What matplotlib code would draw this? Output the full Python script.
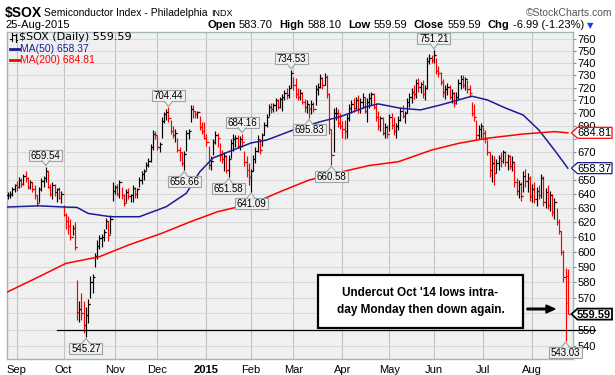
import numpy as np
import pandas as pd
import matplotlib
matplotlib.use('Agg')
import matplotlib.pyplot as plt
from matplotlib.patches import Polygon, Rectangle, FancyArrow
from matplotlib.lines import Line2D
from matplotlib.transforms import IdentityTransform
from matplotlib.ticker import NullLocator

plt.rcParams['font.family'] = ['Liberation Sans', 'DejaVu Sans']

# trading days shown (NYSE closed on these)
holidays = ['2014-09-01', '2014-11-27', '2014-12-25', '2015-01-01', '2015-01-19',
            '2015-02-16', '2015-04-03', '2015-05-25', '2015-07-03']
dates = pd.bdate_range('2014-08-26', '2015-08-25', freq='C', holidays=holidays)

# daily high / low / close (one row per month)
high = [641, 642, 645, 647,
        649, 652, 651, 654, 656, 652, 650, 648, 646, 639, 645, 651, 653, 659.54, 656, 647, 648, 647, 644, 645, 642,
        632, 626, 624, 622, 618, 620, 581, 568, 573, 568, 564, 569, 584, 585, 599, 608, 611, 612, 615, 623, 621, 625, 648,
        646, 647, 650, 645, 640, 643, 644, 640, 646, 645, 644, 652, 656, 658, 663, 666, 676, 687, 686,
        683, 678, 697, 701, 703, 704.44, 695, 690, 688, 681, 674, 670, 671, 687, 688, 706, 706, 702, 702, 698, 693, 693,
        684, 675, 667, 680, 686, 685, 677, 672, 670, 668, 668, 680, 684, 683, 683, 682, 684.16, 671, 667, 662,
        658, 668, 674, 683, 680, 685, 693, 699, 707, 708, 708, 712, 711, 713, 715, 718, 720, 722, 734.53,
        729, 728, 720, 719, 717, 711, 710, 707, 710, 709, 722, 724, 731, 729, 732, 730, 716, 688, 704, 705, 703, 700,
        694, 695, 699, 707, 710, 712, 713, 714, 712, 716, 713, 712, 716, 717, 716, 708, 702, 698, 697, 692, 691,
        699, 700, 697, 692, 698, 705, 706, 702, 712, 716, 720, 722, 727, 728, 725, 726, 722, 745, 748, 747,
        751.21, 744, 738, 733, 727, 722, 724, 722, 719, 717, 717, 727, 730, 730, 729, 726, 722, 709, 707, 695, 691, 692,
        689, 687, 679, 670, 668, 667, 665, 668, 670, 672, 671, 669, 668, 667, 663, 651, 650, 648, 656, 658, 655, 653,
        647, 648, 645, 646, 654, 653, 644, 646, 642, 640, 637, 630, 622, 614, 601, 589, 588.10]
low = [636, 637, 638, 641,
       642, 644, 645, 646, 648, 643, 643, 641, 636, 631, 634, 642, 645, 648, 644, 638, 636, 638, 634, 636, 633,
       624, 615, 612, 608, 611, 601, 556, 555, 556, 548, 545.27, 554, 570, 573, 590, 595, 602, 603, 607, 615, 607, 612, 635,
       640, 638, 637, 636, 631, 634, 636, 634, 634, 637, 637, 645, 647, 650, 657, 659, 663, 672, 680,
       672, 670, 681, 692, 695, 693, 684, 681, 678, 670, 664, 660, 656.66, 671, 680, 693, 696, 696, 696, 687, 684, 680,
       675, 658, 657, 668, 676, 674, 664, 662, 656, 655, 651.58, 666, 671, 674, 673, 672, 674, 660, 652, 646,
       641.09, 656, 662, 670, 669, 675, 683, 689, 698, 700, 701, 702, 703, 704, 702, 710, 711, 712, 720,
       718, 712, 710, 710, 707, 701, 700, 695.83, 699, 701, 706, 714, 720, 719, 722, 712, 684, 660.58, 670, 695, 689, 688,
       681, 680, 681, 694, 700, 701, 703, 700, 700, 704, 700, 693, 704, 706, 703, 694, 687, 686, 683, 681, 681,
       686, 688, 683, 681, 687, 694, 696, 692, 700, 705, 708, 711, 712, 717, 716, 712, 710, 719, 739, 740,
       740, 731, 729, 722, 713, 711, 714, 711, 708, 705, 707, 711, 719, 720, 718, 716, 713, 698, 694, 679, 680, 681,
       679, 677, 668, 652, 648, 646, 655, 657, 659, 662, 660, 657, 658, 656, 645, 639, 637, 635, 641, 645, 641, 635,
       634, 633, 631, 636, 637, 631, 630, 629, 628, 624, 622, 618, 612, 598, 580, 543.03, 559.59]
close = [639, 640, 643, 646,
         645, 650, 647, 653, 651, 645, 648, 643, 639, 633, 643, 649, 651, 656, 645, 640, 646, 641, 643, 637, 640,
         625, 621, 617, 610, 616, 603, 561, 563, 560, 553, 559, 566, 580, 583, 597, 604, 609, 610, 613, 621, 611, 622, 642,
         645, 640, 648, 639, 633, 641, 638, 639, 644, 640, 643, 650, 654, 656, 661, 664, 674, 684, 683,
         674, 676, 694, 699, 701, 696, 686, 683, 685, 672, 670, 662, 669, 685, 686, 703, 702, 699, 701, 689, 686, 681,
         678, 661, 664, 678, 683, 681, 668, 665, 667, 657, 665, 677, 680, 681, 675, 680, 678, 663, 657, 652,
         656, 665, 671, 680, 672, 683, 691, 697, 705, 703, 706, 710, 705, 711, 713, 716, 714, 720, 732,
         722, 715, 713, 716, 709, 705, 707, 703, 707, 703, 719, 721, 728, 722, 729, 715, 688, 668, 700, 700, 692, 690,
         688, 686, 696, 704, 707, 704, 710, 703, 709, 713, 702, 709, 712, 715, 705, 697, 690, 696, 685, 689, 684,
         697, 691, 686, 690, 695, 702, 698, 700, 709, 713, 717, 715, 724, 721, 723, 715, 720, 742, 744, 743,
         747, 734, 732, 725, 717, 719, 721, 713, 716, 708, 713, 724, 727, 722, 727, 719, 716, 700, 697, 683, 688, 690,
         685, 680, 670, 657, 662, 655, 662, 666, 664, 670, 663, 667, 660, 663, 648, 642, 647, 638, 653, 649, 651, 638,
         643, 636, 642, 639, 651, 634, 641, 632, 639, 627, 634, 620, 614, 600, 583, 566.58, 559.59]
last_open = 583.70
chg, chg_pct = -6.99, -1.23

# moving averages, read at points along the drawn lines (trading-day index, value)
ma50_idx = [0, 14, 25, 31, 36, 46, 59, 71, 80, 86, 92, 101, 109, 116, 128, 140, 149, 161,
            166, 176, 185, 194, 208, 215, 223, 231, 238, 245, 251]
ma50_val = [630.5, 631.3, 630.5, 630.2, 626.0, 623.7, 623.7, 630.7, 640.2, 655.6, 665.9, 671.8,
            677.1, 679.3, 687.0, 693.3, 697.2, 705.1, 707.2, 703.8, 702.5, 706.4, 713.3, 710.3,
            704.0, 698.5, 687.0, 671.8, 658.37]
ma200_idx = [0, 14, 26, 41, 54, 69, 82, 94, 110, 122, 135, 150, 162, 175, 190, 202, 215,
             231, 239, 245, 251]
ma200_val = [573.7, 583.4, 592.1, 596.5, 604.3, 612.3, 620.3, 627.2, 633.1, 641.3, 649.7, 655.8,
             660.3, 663.1, 671.8, 676.8, 680.7, 683.9, 684.9, 685.7, 684.81]

# labelled swing points (index, value, label above the bar?)
callouts = [(17, 659.54, True), (35, 545.27, False), (72, 704.44, True), (79, 656.66, False),
            (99, 651.58, False), (105, 684.16, True), (109, 641.09, False), (127, 734.53, True),
            (135, 695.83, False), (145, 660.58, False), (191, 751.21, True), (250, 543.03, False)]
support = 549.5
month_names = ['Sep', 'Oct', 'Nov', 'Dec', '2015', 'Feb', 'Mar', 'Apr', 'May', 'Jun', 'Jul', 'Aug']
hidden_ticks = [560, 660, 680]   # sit under the price tags on the right

RED = '#ff0000'
BLUE = '#1c1c96'
W, H = 615, 375

fig = plt.figure(figsize=(W / 100, H / 100), dpi=100)
L, R, T, B = 6.5, 572.5, 31.5, 359
ax = fig.add_axes([L / W, (H - B) / H, (R - L) / W, (B - T) / H])
ax.set_facecolor('#f0f0f0')
ax.set_yscale('log')
ax.set_ylim(532.3, 766.6)
ax.set_xlim(-0.6, 253.1)

yt = np.arange(540, 761, 10)
ax.set_yticks(yt)
ax.set_yticklabels(['' if v in hidden_ticks else str(v) for v in yt])
ax.yaxis.set_minor_locator(NullLocator())
ax.yaxis.tick_right()
ax.tick_params(axis='y', length=2.5, pad=1, labelsize=8, color='#888888')

x = np.arange(len(close))
month_idx = [i for i in range(1, len(dates)) if dates[i].month != dates[i - 1].month]
ax.set_xticks(month_idx)
ax.set_xticklabels(month_names)
ax.get_xticklabels()[4].set_fontweight('bold')
ax.tick_params(axis='x', length=0, pad=4, labelsize=8)
ax.grid(axis='y', color='#d8d8d8', lw=0.7)
ax.grid(axis='x', color='#c2c2c2', lw=0.8)
ax.set_axisbelow(True)
for s in ax.spines.values():
    s.set_color('#a3b5b5')
    s.set_linewidth(1)

# OHLC bars, coloured by close vs previous close
c = np.array(close, dtype=float)
prev = np.r_[c[0], c[:-1]]
opens = prev.copy()
opens[-1] = last_open
cols = np.where(c < prev, RED, 'black')
ax.vlines(x, low, high, colors=cols, lw=0.85, zorder=3)
ax.hlines(opens, x - 0.8, x, colors=cols, lw=0.85, zorder=3)
ax.hlines(c, x, x + 0.8, colors=cols, lw=0.85, zorder=3)

ax.plot(ma50_idx, ma50_val, color=BLUE, lw=1.1, zorder=4)
ax.plot(ma200_idx, ma200_val, color=RED, lw=1.1, zorder=4)

ax.plot([22, 263], [support, support], color='black', lw=0.9, clip_on=False, zorder=9)

ID = IdentityTransform()


def ptext(x, y, s, **kw):
    # text placed in pixel coords measured from the top
    return fig.text(x, H - y, s, transform=ID, **kw)


BOX_FC, BOX_EC = '#f0f0f0', '#9aa4a4'


def callout(i, v, above):
    px, py = ax.transData.transform((i, v))
    d = 1 if above else -1
    cy = py + d * 11.5
    fig.add_artist(Rectangle((px - 16.5, cy - 5.5), 33, 11, transform=ID, fc=BOX_FC,
                             ec=BOX_EC, lw=0.8, zorder=10))
    tri = [(px, py + d * 1), (px - 4, py + d * 6.6), (px + 4, py + d * 6.6)]
    fig.add_artist(Polygon(tri, closed=True, transform=ID, fc=BOX_FC, ec='none', zorder=11))
    fig.add_artist(Line2D([px - 4, px, px + 4], [py + d * 6, py + d * 1, py + d * 6],
                          transform=ID, color=BOX_EC, lw=0.8, zorder=11))
    fig.text(px, cy - 3.5, f'{v:.2f}', transform=ID, ha='center', va='baseline',
             fontsize=7, zorder=12)


for i, v, above in callouts:
    callout(i, v, above)


def price_tag(v, ec, bold=False):
    _, py = ax.transData.transform((0, v))
    tip = R - 1
    pts = [(tip, py), (tip + 6, py + 5.5), (612, py + 5.5), (612, py - 5.5), (tip + 6, py - 5.5)]
    fig.add_artist(Polygon(pts, closed=True, transform=ID, fc='white', ec=ec,
                           lw=1.3 if bold else 0.9, zorder=13))
    fig.text(594, py - 3.6, f'{v:.2f}', transform=ID, ha='center', va='baseline', fontsize=8,
             fontweight='bold' if bold else 'normal', zorder=14)


price_tag(ma200_val[-1], RED)
price_tag(ma50_val[-1], BLUE)
price_tag(close[-1], 'black', bold=True)

# annotation box and arrow
fig.add_artist(Rectangle((318, H - 328), 205, 53, transform=ID, fc='white', ec='black',
                         lw=1.6, zorder=15))
ptext(420.5, 301.5, "Undercut Oct '14 lows intra-\nday Monday then down again.", ha='center',
      va='center', fontsize=8.5, fontweight='bold', linespacing=1.55, zorder=16)
fig.add_artist(FancyArrow(527, H - 309, 28, 0, width=1.6, head_width=8, head_length=9,
                          length_includes_head=True, transform=ID, fc='black', ec='black',
                          zorder=16))

# legend inside the plot
for lx, y0, y1, yo, yc in [(11.5, 33, 41, 39, 35), (15.5, 34, 42, 35, 40)]:
    fig.add_artist(Line2D([lx, lx], [H - y0, H - y1], transform=ID, color='black', lw=0.8, zorder=12))
    fig.add_artist(Line2D([lx - 1.5, lx], [H - yo, H - yo], transform=ID, color='black', lw=0.8, zorder=12))
    fig.add_artist(Line2D([lx, lx + 1.5], [H - yc, H - yc], transform=ID, color='black', lw=0.8, zorder=12))
ptext(19, 39.5, f'$SOX (Daily) {close[-1]:.2f}', fontsize=8, family='DejaVu Sans', va='baseline')
fig.add_artist(Line2D([10, 18.5], [H - 48.5, H - 48.5], transform=ID, color=BLUE, lw=2, zorder=12))
ptext(19.5, 52, f'MA(50) {ma50_val[-1]:.2f}', fontsize=7.5, color=BLUE, va='baseline')
fig.add_artist(Line2D([10, 18.5], [H - 59.5, H - 59.5], transform=ID, color=RED, lw=2, zorder=12))
ptext(19.5, 63, f'MA(200) {ma200_val[-1]:.2f}', fontsize=7.5, color=RED, va='baseline')

# header
ptext(5, 17, '$SOX', fontsize=10, fontweight='bold', va='baseline')
ptext(44, 16.5, 'Semiconductor Index - Philadelphia', fontsize=7.5, va='baseline')
ptext(211, 16.5, 'INDX', fontsize=6.5, va='baseline')
ptext(612, 16, '\u00a9StockCharts.com', fontsize=7.5, color='#555555', ha='right', va='baseline')
ptext(5, 28, dates[-1].strftime('%d-%b-%Y'), fontsize=8, va='baseline')

renderer = fig.canvas.get_renderer()
pieces = [('Open', f'{last_open:.2f}'), ('High', f'{high[-1]:.2f}'), ('Low', f'{low[-1]:.2f}'),
          ('Close', f'{close[-1]:.2f}'), ('Chg', f'{chg:.2f} ({chg_pct:.2f}%)')]
xp = 207
for lab, val in pieces:
    t = ptext(xp, 28, lab, fontsize=8, fontweight='bold', va='baseline')
    xp = t.get_window_extent(renderer).x1 + 3
    t = ptext(xp, 28, val, fontsize=8, va='baseline')
    xp = t.get_window_extent(renderer).x1 + 7
ptext(xp - 4, 28, '\u25bc', fontsize=6, color='#1a3fd0', family='DejaVu Sans', va='baseline')

fig.savefig('out.png', dpi=100)
